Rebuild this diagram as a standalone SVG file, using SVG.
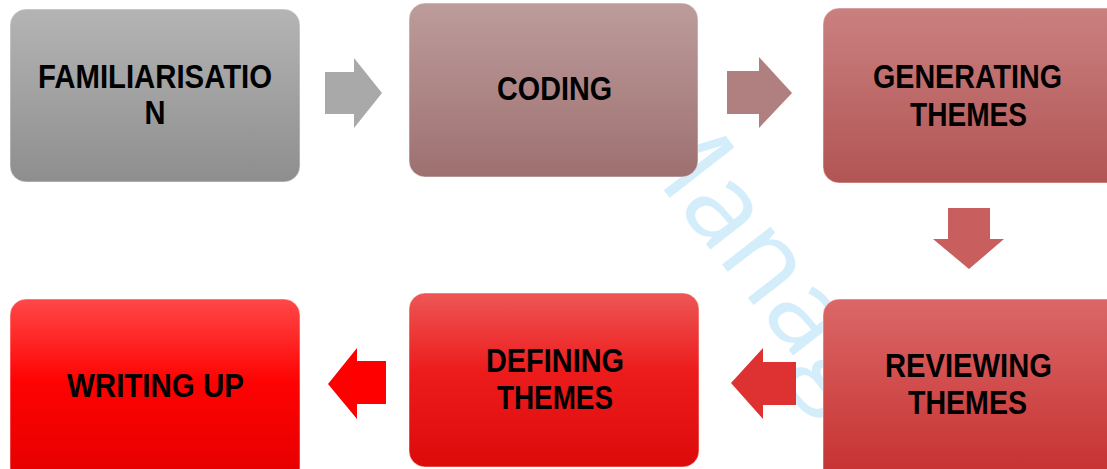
<svg xmlns="http://www.w3.org/2000/svg" width="1107" height="469" viewBox="0 0 1107 469">
<defs>
<linearGradient id="g1" x1="0" y1="0" x2="0" y2="1"><stop offset="0" stop-color="#b4b4b4"/><stop offset="1" stop-color="#8e8e8e"/></linearGradient>
<linearGradient id="g2" x1="0" y1="0" x2="0" y2="1"><stop offset="0" stop-color="#bd9c9c"/><stop offset="1" stop-color="#9e7070"/></linearGradient>
<linearGradient id="g3" x1="0" y1="0" x2="0" y2="1"><stop offset="0" stop-color="#ca8080"/><stop offset="1" stop-color="#b25454"/></linearGradient>
<linearGradient id="g4" x1="0" y1="0" x2="0" y2="1"><stop offset="0" stop-color="#db6767"/><stop offset="1" stop-color="#c52d2d"/></linearGradient>
<linearGradient id="g5" x1="0" y1="0" x2="0" y2="1"><stop offset="0" stop-color="#ed5656"/><stop offset="0.45" stop-color="#ed1c1c"/><stop offset="1" stop-color="#dd0a0a"/></linearGradient>
<linearGradient id="g6" x1="0" y1="0" x2="0" y2="1"><stop offset="0" stop-color="#ff4848"/><stop offset="0.45" stop-color="#fe0202"/><stop offset="1" stop-color="#e40000"/></linearGradient>
</defs>
<style>
.box{stroke:#ffffff;stroke-opacity:0.5;stroke-width:1}
.lbl{font-family:"Liberation Sans",Arial,sans-serif;font-weight:bold;font-size:33px;fill:#000000;text-anchor:middle}
.wm{font-family:"Open Sans","Noto Sans",sans-serif;font-weight:400;font-size:115px;fill:#d3edfa}
</style>
<g id="watermark">
<text class="wm" transform="translate(613,125) rotate(52)">Manag</text>
</g>
<g id="connectors">
<polygon points="325,72 354,72 354,58 382,93 354,128 354,114 325,114" fill="#a9a9a9"/>
<polygon points="727,71 759,71 759,57 792,93 759,128 759,114 727,114" fill="#b07f7f"/>
<polygon points="948,208 990,208 990,239 1004,239 969,269 933,239 948,239" fill="#c85e5e"/>
<polygon points="796,362 763,362 763,348 731,383 763,419 763,405 796,405" fill="#de3131"/>
<polygon points="386,361 357,361 357,348 328,384 357,419 357,404 386,404" fill="#ff0000"/>
</g>
<g id="n1"><rect class="box" x="10" y="9" width="290" height="173" rx="16" fill="url(#g1)"/>
<text class="lbl" x="155" y="88" textLength="234" lengthAdjust="spacingAndGlyphs">FAMILIARISATIO</text>
<text class="lbl" x="155" y="124" textLength="21" lengthAdjust="spacingAndGlyphs">N</text></g>
<g id="n2"><rect class="box" x="409" y="3" width="289" height="174" rx="16" fill="url(#g2)"/>
<text class="lbl" x="554.5" y="100" textLength="115" lengthAdjust="spacingAndGlyphs">CODING</text></g>
<g id="n3"><rect class="box" x="823" y="8" width="300" height="175" rx="16" fill="url(#g3)"/>
<text class="lbl" x="967.5" y="88" textLength="189" lengthAdjust="spacingAndGlyphs">GENERATING</text>
<text class="lbl" x="968.5" y="126" textLength="117" lengthAdjust="spacingAndGlyphs">THEMES</text></g>
<g id="n4"><rect class="box" x="823" y="299" width="300" height="190" rx="16" fill="url(#g4)"/>
<text class="lbl" x="968.5" y="377" textLength="167" lengthAdjust="spacingAndGlyphs">REVIEWING</text>
<text class="lbl" x="967.5" y="414" textLength="119" lengthAdjust="spacingAndGlyphs">THEMES</text></g>
<g id="n5"><rect class="box" x="409" y="293" width="290" height="174" rx="16" fill="url(#g5)"/>
<text class="lbl" x="555" y="372" textLength="138" lengthAdjust="spacingAndGlyphs">DEFINING</text>
<text class="lbl" x="555" y="409" textLength="116" lengthAdjust="spacingAndGlyphs">THEMES</text></g>
<g id="n6"><rect class="box" x="10" y="299" width="290" height="185" rx="16" fill="url(#g6)"/>
<text class="lbl" x="155.5" y="397" textLength="177" lengthAdjust="spacingAndGlyphs">WRITING UP</text></g>
</svg>
